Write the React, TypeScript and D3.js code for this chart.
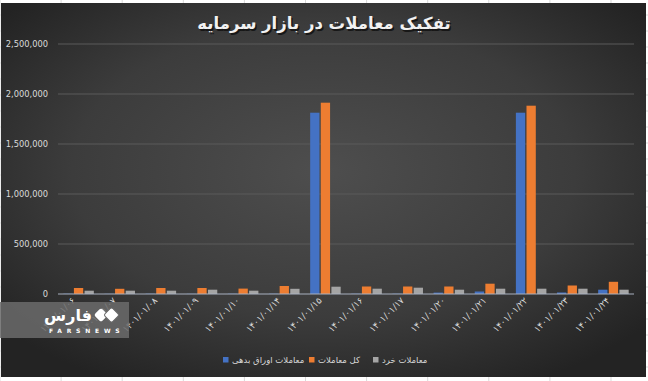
import React from 'react';
import * as d3 from 'd3';

const categories = ['۱۴۰۱/۰۱/۰۶','۱۴۰۱/۰۱/۰۷','۱۴۰۱/۰۱/۰۸','۱۴۰۱/۰۱/۰۹','۱۴۰۱/۰۱/۱۰','۱۴۰۱/۰۱/۱۴','۱۴۰۱/۰۱/۱۵','۱۴۰۱/۰۱/۱۶','۱۴۰۱/۰۱/۱۷','۱۴۰۱/۰۱/۲۰','۱۴۰۱/۰۱/۲۱','۱۴۰۱/۰۱/۲۲','۱۴۰۱/۰۱/۲۳','۱۴۰۱/۰۱/۲۴'];
const bondTrades = [3000, 2000, 3000, 2000, 3000, 3000, 1813000, 3000, 3000, 14000, 25000, 1813000, 15000, 43000];
const totalTrades = [60000, 52000, 60000, 60000, 54000, 80000, 1913000, 75000, 75000, 75000, 103000, 1883000, 85000, 122000];
const retailTrades = [33000, 33000, 33000, 43000, 33000, 52000, 73000, 53000, 63000, 43000, 53000, 53000, 53000, 43000];
const seriesNames = ['معاملات اوراق بدهی', 'کل معاملات', 'معاملات خرد'];
const seriesColors = ['#4472C4', '#ED7D31', '#A5A5A5'];
const yTicks = [0, 500000, 1000000, 1500000, 2000000, 2500000];
const title = 'تفکیک معاملات در بازار سرمایه';

const W = 648, H = 381;

export default function App() {
  const x = d3.scaleBand<string>().domain(categories).range([58, 634]).padding(0);
  const y = d3.scaleLinear().domain([0, 2500000]).range([294, 44]);
  const band = x.bandwidth();
  const barW = band * 0.226;
  const step = band * 0.258;
  const series = [bondTrades, totalTrades, retailTrades];
  const fmt = d3.format(',');

  const legendItems = [
    { sq: 223, tx: 232 },
    { sq: 309, tx: 318 },
    { sq: 373, tx: 382 },
  ];

  const gridV = d3.range(0, 11).map(i => i * 61.1);
  const gridH = d3.range(0, 24).map(i => 15 + i * 16);

  return (
    <svg width={W} height={H} style={{ position: 'absolute', left: 0, top: 0, background: '#fff' }}
      fontFamily="'DejaVu Sans', sans-serif">
      <defs>
        <radialGradient id="bg" cx="50%" cy="45%" r="65%">
          <stop offset="0%" stopColor="#4e4e4e" />
          <stop offset="60%" stopColor="#3c3c3c" />
          <stop offset="100%" stopColor="#232323" />
        </radialGradient>
      </defs>
      {gridV.map((gx, i) => (
        <line key={'gv' + i} x1={gx} x2={gx} y1={0} y2={H} stroke="#d9d9d9" strokeWidth={1} />
      ))}
      {gridH.map((gy, i) => (
        <line key={'gh' + i} x1={0} x2={W} y1={gy} y2={gy} stroke="#d9d9d9" strokeWidth={1} />
      ))}
      <rect x={1} y={3} width={645} height={374} fill="url(#bg)" />

      <text x={325.5} y={30.5} textAnchor="middle" fontSize={16.5} fontWeight="bold" fill="#000" opacity={0.6}>{title}</text>
      <text x={324} y={29} textAnchor="middle" fontSize={16.5} fontWeight="bold" fill="#f2f2f2">{title}</text>

      {yTicks.filter(t => t > 0).map(t => (
        <line key={t} x1={58} x2={634} y1={y(t)} y2={y(t)} stroke="#5a5a5a" strokeWidth={1} />
      ))}
      {yTicks.map(t => (
        <text key={'l' + t} x={48} y={y(t) + 3} textAnchor="end" fontSize={8.3} fill="#d9d9d9">{fmt(t)}</text>
      ))}

      {series.map((vals, si) => (
        <g key={si} fill={seriesColors[si]}>
          {vals.map((v, ci) => {
            const cx = (x(categories[ci]) as number) + band / 2 + (si - 1) * step;
            return <rect key={ci} x={cx - barW / 2} y={y(v)} width={barW} height={y(0) - y(v)} />;
          })}
        </g>
      ))}
      <line x1={58} x2={634} y1={y(0)} y2={y(0)} stroke="#a8b0bf" strokeWidth={1} />

      {categories.map((c) => {
        const cx = (x(c) as number) + band / 2 - 3;
        return (
          <text key={c} transform={`translate(${cx},${301}) rotate(-45)`} textAnchor="end" fontSize={9} fill="#d9d9d9">{c}</text>
        );
      })}

      {legendItems.map((li, i) => (
        <g key={i}>
          <rect x={li.sq} y={357} width={5.5} height={5.5} fill={seriesColors[i]} />
          <text x={li.tx} y={363} fontSize={8.5} fill="#d9d9d9">{seriesNames[i]}</text>
        </g>
      ))}

      <g>
        <rect x={0} y={302} width={129} height={36} fill="#6b6b6b" opacity={0.85} />
        <text x={68} y={321} textAnchor="middle" fontSize={16} fontWeight="bold" fill="#fff">فارس</text>
        <rect x={96} y={310} width={10} height={10} rx={2} fill="#fff" transform="rotate(45 101 315)" />
        <rect x={106} y={309.5} width={11} height={11} rx={2} fill="#fff" stroke="#6b6b6b" strokeWidth={1} transform="rotate(45 111.5 315)" />
        <text x={49} y={333} fontSize={6} fontWeight="bold" fill="#fff" letterSpacing={4.8}>FARSNEWS</text>
      </g>
    </svg>
  );
}
